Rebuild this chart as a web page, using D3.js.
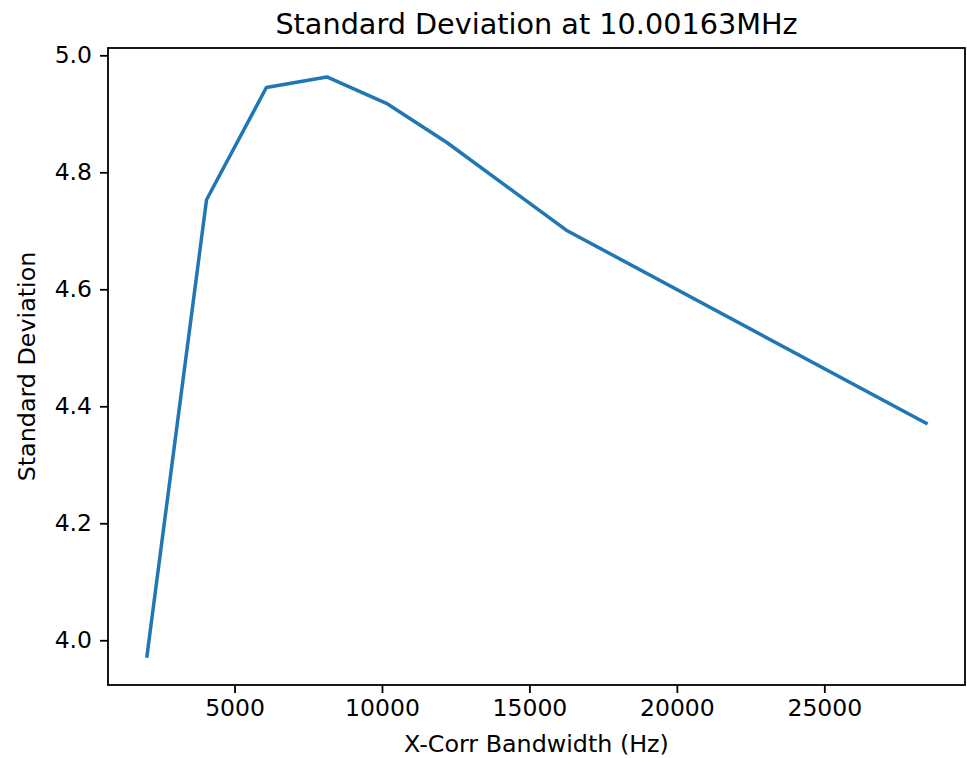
<!DOCTYPE html>
<html>
<head>
<meta charset="utf-8">
<script src="https://cdn.jsdelivr.net/npm/d3@7"></script>
<style>
body { margin:0; background:#fff; }
text { font-family:"DejaVu Sans", sans-serif; fill:#000; }
</style>
</head>
<body>
<div id="chart"></div>
<script>
// values
var bandwidth = [2030, 4050, 6080, 8130, 10150, 12200, 16250, 28450];
var stdDev = [3.973, 4.753, 4.945, 4.963, 4.918, 4.851, 4.701, 4.371];
var xTicks = [5000, 10000, 15000, 20000, 25000];
var yTicks = [4.0, 4.2, 4.4, 4.6, 4.8, 5.0];
var titleText = "Standard Deviation at 10.00163MHz";
var xLabel = "X-Corr Bandwidth (Hz)";
var yLabel = "Standard Deviation";

var w = 967;
var h = 758;
var margins = {top:48, bottom:73, left:108, right:2};
var graph = {width: w - margins.left - margins.right, height: h - margins.top - margins.bottom};

var data = bandwidth.map(function(d, i){ return {x:d, y:stdDev[i]}; });

// matplotlib style 5% margins
var pad = function(ext){ var r = ext[1]-ext[0]; return [ext[0]-r*0.05, ext[1]+r*0.05]; };

var xScale = d3.scaleLinear()
  .domain(pad(d3.extent(bandwidth)))
  .range([margins.left, margins.left + graph.width]);
var yScale = d3.scaleLinear()
  .domain(pad(d3.extent(stdDev)))
  .range([margins.top + graph.height, margins.top]);

var svg = d3.select("#chart")
  .append("svg")
  .attr("width", w)
  .attr("height", h);

var xAxis = d3.axisBottom(xScale)
  .tickValues(xTicks)
  .tickSize(8)
  .tickPadding(6)
  .tickFormat(d3.format("d"));
var yAxis = d3.axisLeft(yScale)
  .tickValues(yTicks)
  .tickSize(8)
  .tickPadding(8)
  .tickFormat(d3.format(".1f"));

var gx = svg.append("g")
  .attr("transform", "translate(0," + (margins.top + graph.height) + ")")
  .call(xAxis);
var gy = svg.append("g")
  .attr("transform", "translate(" + margins.left + ",0)")
  .call(yAxis);

[gx, gy].forEach(function(g){
  g.select(".domain").remove();
  g.selectAll(".tick line").attr("stroke", "#000").attr("stroke-width", 1.8);
  g.selectAll(".tick text").attr("font-size", "23.5px").attr("fill", "#000")
    .style("font-family", "DejaVu Sans");
});

// frame
svg.append("rect")
  .attr("x", margins.left)
  .attr("y", margins.top)
  .attr("width", graph.width)
  .attr("height", graph.height)
  .attr("fill", "none")
  .attr("stroke", "#000")
  .attr("stroke-width", 1.8);

var line = d3.line()
  .x(function(d){ return xScale(d.x); })
  .y(function(d){ return yScale(d.y); });

svg.append("path")
  .datum(data)
  .attr("d", line)
  .attr("fill", "none")
  .attr("stroke", "#1f77b4")
  .attr("stroke-width", 3.5)
  .attr("stroke-linejoin", "round")
  .attr("stroke-linecap", "square");

var labels = svg.append("g").classed("labels", true);

labels.append("text")
  .text(titleText)
  .attr("text-anchor", "middle")
  .attr("font-size", "28.7px")
  .attr("x", margins.left + graph.width/2)
  .attr("y", 34);

labels.append("text")
  .text(xLabel)
  .attr("text-anchor", "middle")
  .attr("font-size", "23.8px")
  .attr("x", margins.left + graph.width/2)
  .attr("y", 752);

labels.append("text")
  .text(yLabel)
  .attr("text-anchor", "middle")
  .attr("font-size", "23.8px")
  .attr("transform", "translate(35," + (margins.top + graph.height/2) + ") rotate(-90)");
</script>
</body>
</html>
